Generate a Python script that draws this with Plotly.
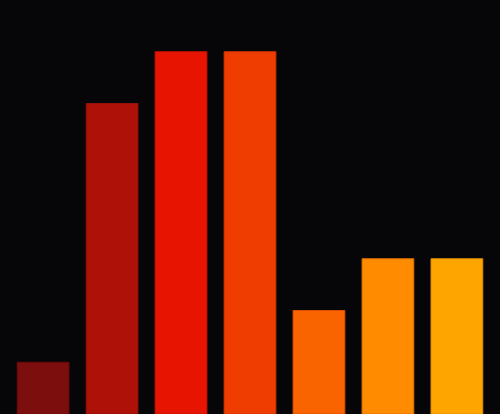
import plotly.graph_objects as go

categories = ["A", "B", "C", "D", "E", "F", "G"]
values = [1, 6, 7, 7, 2, 3, 3]
colors = ["#7d0e0e", "#ae1108", "#e61400", "#ef3c00", "#fa6400", "#ff8c00", "#ffa500"]
outlines = ["#6a0a0a", "#951006", "#cc1200", "#d43500", "#dd5000", "#e07000", "#e09000"]

fig = go.Figure(go.Bar(
    x=list(range(len(categories))),
    y=values,
    width=0.75,
    marker=dict(color=colors, line=dict(color=outlines, width=1)),
    hoverinfo="skip",
))
fig.update_layout(
    width=500, height=414,
    margin=dict(l=0, r=0, t=0, b=0),
    paper_bgcolor="#060608",
    plot_bgcolor="#060608",
    showlegend=False,
    xaxis=dict(range=[-0.625, 6.625], visible=False, showgrid=False, zeroline=False),
    yaxis=dict(range=[0, 8], visible=False, showgrid=False, zeroline=False),
)
fig.write_html(
    "out.html",
    config={"displayModeBar": False},
    post_script="document.body.style.margin='0';document.body.style.background='#060608';document.body.style.overflow='hidden';",
)
